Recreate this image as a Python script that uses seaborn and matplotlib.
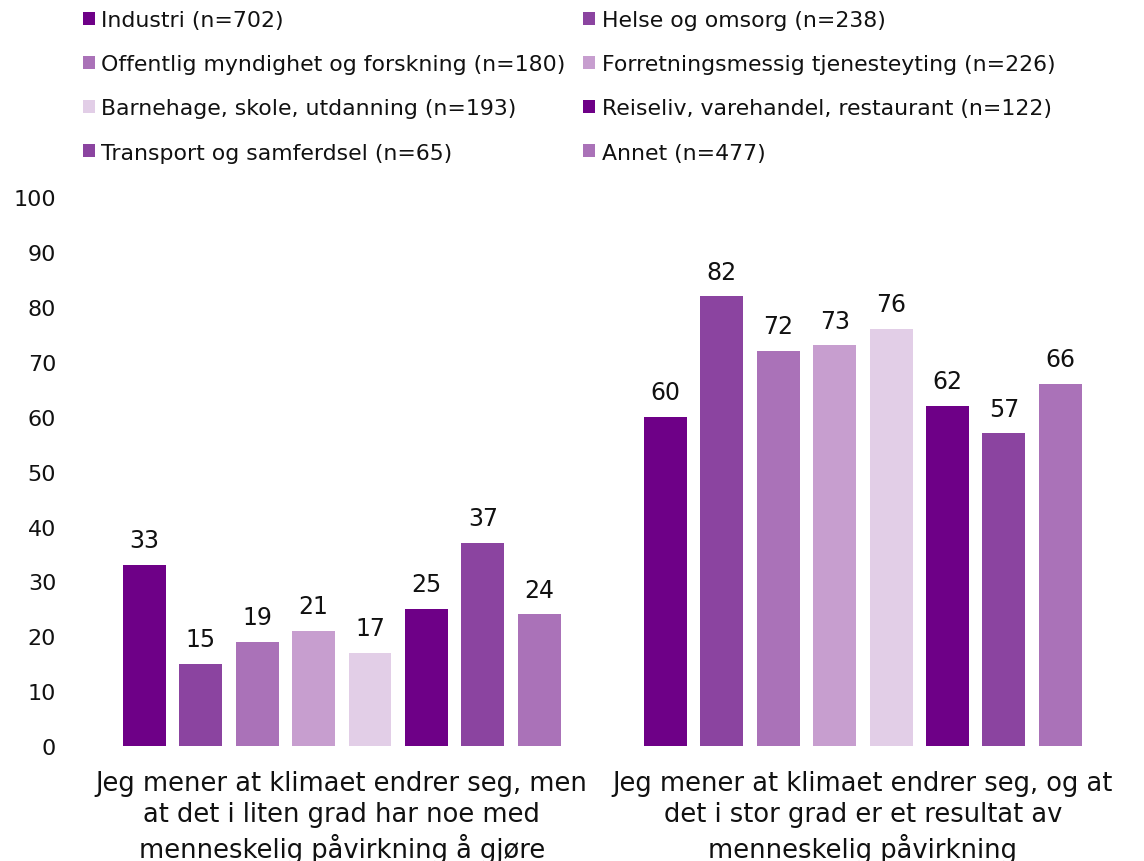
import pandas as pd
import matplotlib.pyplot as plt
import seaborn as sns

sns.set_theme(style="white")
plt.rcParams["font.family"] = ["DejaVu Sans"]

# data
groups = [
    "Jeg mener at klimaet endrer seg, men\nat det i liten grad har noe med\nmenneskelig påvirkning å gjøre",
    "Jeg mener at klimaet endrer seg, og at\ndet i stor grad er et resultat av\nmenneskelig påvirkning",
]
sectors = [
    "Industri (n=702)",
    "Helse og omsorg (n=238)",
    "Offentlig myndighet og forskning (n=180)",
    "Forretningsmessig tjenesteyting (n=226)",
    "Barnehage, skole, utdanning (n=193)",
    "Reiseliv, varehandel, restaurant (n=122)",
    "Transport og samferdsel (n=65)",
    "Annet (n=477)",
]
small_share = [33, 15, 19, 21, 17, 25, 37, 24]
large_share = [60, 82, 72, 73, 76, 62, 57, 66]
colors = ["#6E0087", "#8B44A0", "#AA72B8", "#C79ECF",
          "#E2CEE7", "#6E0087", "#8B44A0", "#AA72B8"]

rows = []
for group, values in zip(groups, [small_share, large_share]):
    for sector, v in zip(sectors, values):
        rows.append({"group": group, "sector": sector, "value": v})
df = pd.DataFrame(rows)

fig = plt.figure(figsize=(11.44, 8.62), dpi=100)
ax = fig.add_axes([0.071, 0.1334, 0.911, 0.6366])

sns.barplot(data=df, x="group", y="value", hue="sector", hue_order=sectors,
            palette=colors, saturation=1, width=0.866, gap=0.24, ax=ax,
            legend=True, linewidth=0)

for c in ax.containers:
    ax.bar_label(c, fmt="%d", padding=9, fontsize=17, color="#111111")

ax.set_ylim(0, 100)
ax.set_yticks(range(0, 101, 10))
ax.set_xlim(-0.5, 1.5)
ax.set_xlabel("")
ax.set_ylabel("")
ax.tick_params(axis="y", labelsize=16, length=0, pad=18, colors="#111111")
ax.tick_params(axis="x", labelsize=18.5, length=0, pad=17, colors="#111111")
for lbl in ax.get_xticklabels():
    lbl.set_horizontalalignment("center")
    lbl.set_linespacing(1.25)
sns.despine(ax=ax, left=True, bottom=True)

# legend, filled row by row
handles, labels = ax.get_legend_handles_labels()
ax.get_legend().remove()
order = [0, 2, 4, 6, 1, 3, 5, 7]
fig.legend([handles[i] for i in order], [labels[i] for i in order],
           ncol=2, loc="upper left", bbox_to_anchor=(0.055, 1.01),
           frameon=False, fontsize=15.8, handlelength=0.55, handleheight=0.55,
           handletextpad=0.3, columnspacing=0.8, labelspacing=1.1,
           labelcolor="#111111")

fig.savefig("out.png", dpi=100)
plt.close()
